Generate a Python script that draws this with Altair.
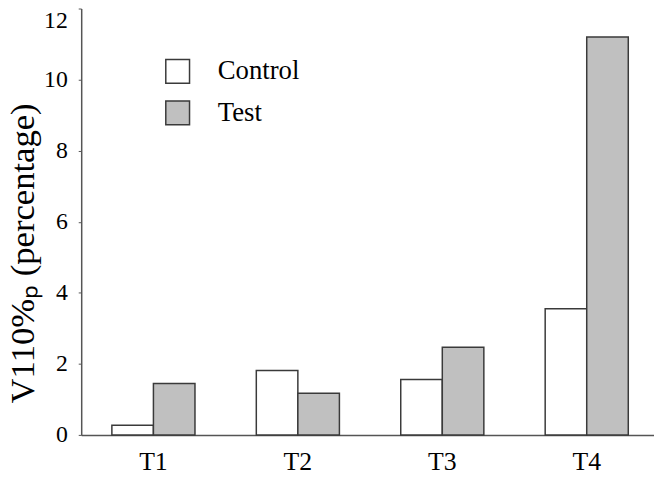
import altair as alt
import pandas as pd

categories = ["T1", "T2", "T3", "T4"]
groups = ["Control", "Test"]
control_values = [0.27, 1.81, 1.56, 3.55]
test_values = [1.45, 1.17, 2.47, 11.2]
y_ticks = [0, 2, 4, 6, 8, 10, 12]

rows = []
for c, cv, tv in zip(categories, control_values, test_values):
    rows.append({"cat": c, "group": "Control", "value": cv})
    rows.append({"cat": c, "group": "Test", "value": tv})
df = pd.DataFrame(rows)

FONT = "'Liberation Serif', 'Times New Roman', serif"

bars = alt.Chart(df).mark_bar(stroke="#3a3a3a", strokeWidth=1.5).encode(
    x=alt.X(
        "cat:N", sort=categories,
        scale=alt.Scale(range=[0, 584], paddingInner=0, paddingOuter=0),
        axis=alt.Axis(title=None, labelAngle=0, ticks=False, labelFontSize=26,
                      labelPadding=14, domainColor="#555555", domainWidth=1.5,
                      labelColor="black", labelFont=FONT),
    ),
    xOffset=alt.XOffset("group:N", sort=groups,
                        scale=alt.Scale(paddingInner=0, paddingOuter=0.738)),
    y=alt.Y(
        "value:Q",
        scale=alt.Scale(domain=[0, 12], nice=False),
        axis=alt.Axis(values=y_ticks, title="V110%ₚ (percentage)", grid=False,
                      labelFont=FONT, labelFontSize=24, labelColor="black",
                      labelPadding=11, tickSize=3, tickColor="#555555",
                      domainColor="#555555", domainWidth=1.5,
                      labelBaseline={"condition": {"test": "datum.value == 12", "value": "top"}, "value": "middle"},
                      titleFont=FONT, titleFontSize=35, titleFontWeight="normal",
                      titleColor="black", titleBaseline="alphabetic",
                      titleX=-48, titleY=247, titleAlign="center", titleAngle=270),
    ),
    color=alt.Color(
        "group:N", sort=groups,
        scale=alt.Scale(domain=groups, range=["white", "#c0c0c0"]),
        legend=alt.Legend(orient="none", legendX=84, legendY=50, title=None,
                          symbolType="square", symbolSize=576,
                          symbolStrokeColor="#3a3a3a", symbolStrokeWidth=1.5,
                          labelFont=FONT, labelFontSize=27, labelColor="black",
                          labelOffset=27, rowPadding=11, padding=0),
    ),
).properties(
    width=579, height=431,
    autosize=alt.AutoSizeParams(type="none"),
    padding={"left": 74, "top": -2, "right": 0, "bottom": 38},
).configure_view(stroke=None)

chart = bars
chart.save("out.html", embed_options={"renderer": "svg", "actions": False})
